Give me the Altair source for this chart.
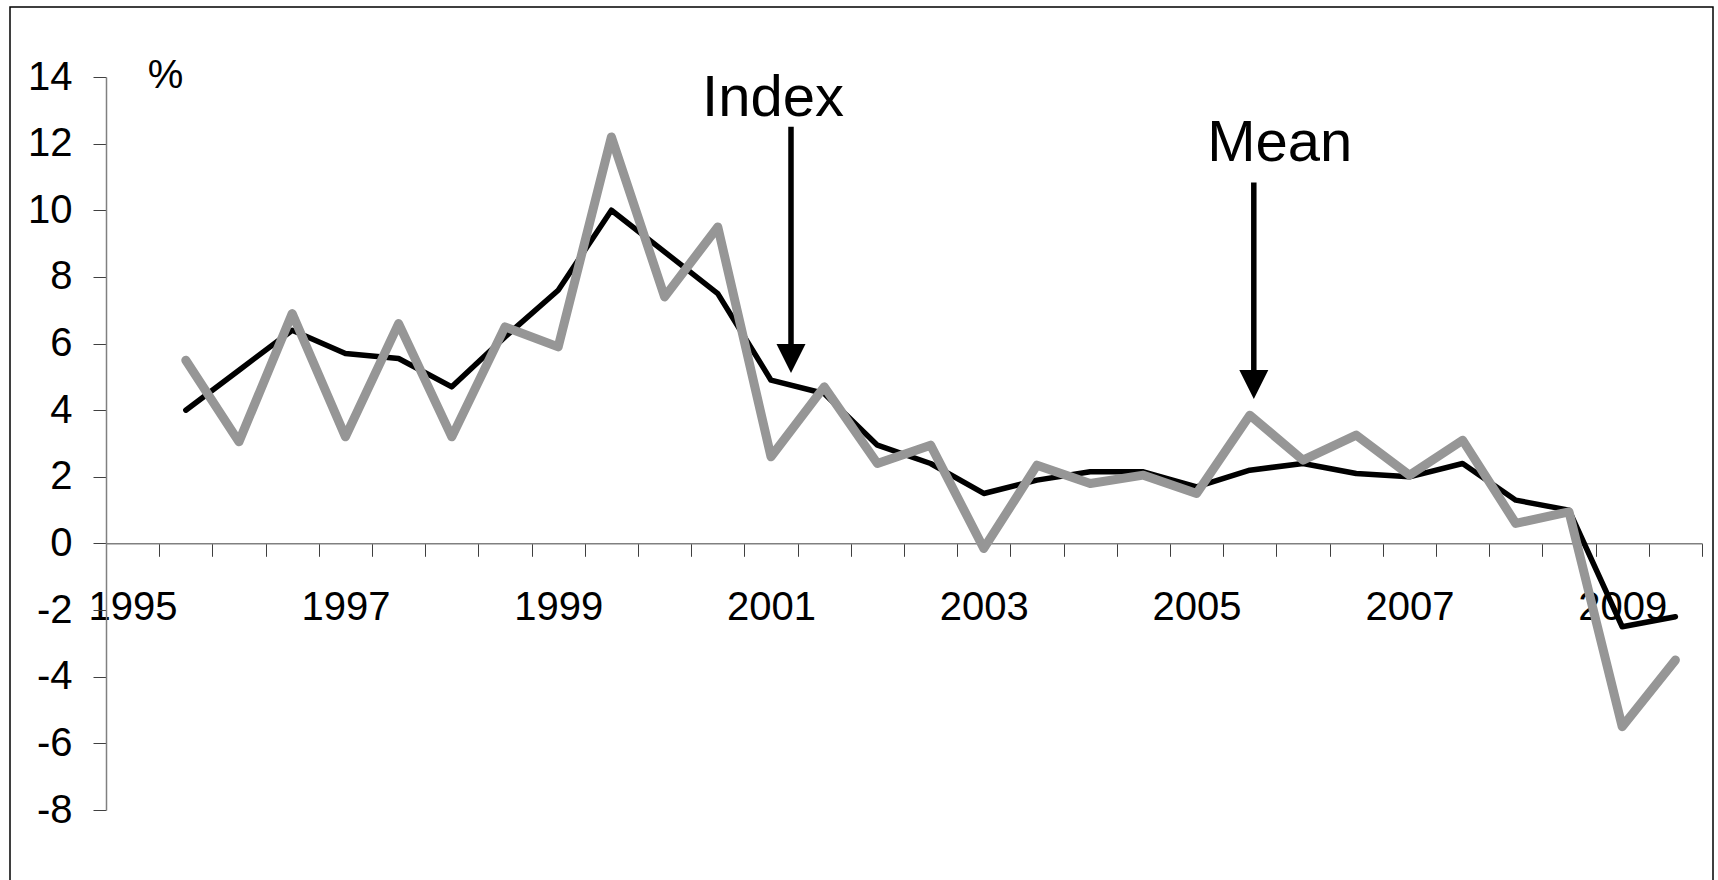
import altair as alt
import pandas as pd

# ---- data ----
periods = [
    "1995 H2",
    "1996 H1", "1996 H2", "1997 H1", "1997 H2", "1998 H1", "1998 H2",
    "1999 H1", "1999 H2", "2000 H1", "2000 H2", "2001 H1", "2001 H2",
    "2002 H1", "2002 H2", "2003 H1", "2003 H2", "2004 H1", "2004 H2",
    "2005 H1", "2005 H2", "2006 H1", "2006 H2", "2007 H1", "2007 H2",
    "2008 H1", "2008 H2", "2009 H1", "2009 H2",
]
mean_vals = [4.0, 5.2, 6.4, 5.7, 5.55, 4.7, 6.2, 7.6, 10.0, 8.75, 7.5, 4.9, 4.5,
             2.95, 2.4, 1.5, 1.9, 2.15, 2.15, 1.7, 2.2, 2.4, 2.1, 2.0, 2.4,
             1.3, 1.0, -2.5, -2.2]
index_vals = [5.5, 3.05, 6.9, 3.2, 6.6, 3.2, 6.5, 5.9, 12.2, 7.4, 9.5, 2.6, 4.7,
              2.4, 2.95, -0.15, 2.35, 1.8, 2.05, 1.5, 3.85, 2.5, 3.25, 2.05, 3.1,
              0.6, 0.95, -5.5, -3.5]
axis_categories = ["1995 H1"] + periods
y_ticks = list(range(-8, 15, 2))

ann_labels = ["Index", "Mean"]
ann_periods = ["2001 H1", "2005 H2"]
ann_text_y = [12.84, 11.47]
ann_text_dx = [2, 30]
arrow_dx = [20, 4]
arrow_top = [12.51, 10.83]
arrow_shaft_end = [5.82, 5.07]
arrow_head_mid = [5.55, 4.77]

unit_label = "%"
unit_period = "1995 H2"
unit_y = 13.68

FONT = "Liberation Sans"
W, H = 1596, 733

df_mean = pd.DataFrame({"period": periods, "value": mean_vals})
df_index = pd.DataFrame({"period": periods, "value": index_vals})

label_expr = ("indexof('' + datum.value, 'H1') >= 0 && "
              "toNumber(slice('' + datum.value, 0, 4)) % 2 == 1 ? "
              "slice('' + datum.value, 0, 4) : ''")

x_enc = alt.X(
    "period:N",
    sort=axis_categories,
    scale=alt.Scale(type="band", domain=axis_categories, paddingInner=0, paddingOuter=0),
    axis=alt.Axis(
        title=None, tickBand="extent", labelExpr=label_expr, labelAngle=0,
        labelFontSize=40, labelColor="black",
        labelPadding=31, tickSize=13, tickColor="#404040",
        domainColor="#808080", domainWidth=1.5, offset=-266.7, grid=False,
    ),
)
y_scale = alt.Scale(domain=[-8, 14], nice=False, zero=False)
y_axis = alt.Axis(
    values=y_ticks, title=None, labelExpr="'' + datum.value",
    labelFontSize=40, labelColor="black", labelPadding=21,
    tickSize=13, tickColor="#404040",
    domainColor="#808080", domainWidth=1.5, grid=False,
)

mean_line = alt.Chart(df_mean).mark_line(
    color="black", strokeWidth=5.5, strokeJoin="round", strokeCap="round"
).encode(x=x_enc, y=alt.Y("value:Q", scale=y_scale, axis=y_axis))

index_line = alt.Chart(df_index).mark_line(
    color="#969696", strokeWidth=9, strokeJoin="round", strokeCap="round"
).encode(x=x_enc, y=alt.Y("value:Q", scale=y_scale))

unit_text = alt.Chart(pd.DataFrame({"period": [unit_period], "y": [unit_y], "t": [unit_label]})).mark_text(
    fontSize=40, color="black", align="left", baseline="alphabetic", dx=-38
).encode(x=x_enc, y=alt.Y("y:Q", scale=y_scale), text="t:N")

layers = [mean_line, index_line, unit_text]
for i in range(len(ann_labels)):
    d = pd.DataFrame({
        "period": [ann_periods[i]], "ty": [ann_text_y[i]], "label": [ann_labels[i]],
        "top": [arrow_top[i]], "bot": [arrow_shaft_end[i]], "head": [arrow_head_mid[i]],
    })
    base = alt.Chart(d)
    layers.append(base.mark_text(
        fontSize=58, color="black", align="center",
        baseline="alphabetic", dx=ann_text_dx[i]
    ).encode(x=x_enc, y=alt.Y("ty:Q", scale=y_scale), text="label:N"))
    layers.append(base.mark_rule(
        color="black", strokeWidth=5.5, xOffset=arrow_dx[i]
    ).encode(x=x_enc, y=alt.Y("top:Q", scale=y_scale), y2="bot:Q"))
    layers.append(base.mark_point(
        shape="M-1,-1L1,-1L0,1Z", size=29 * 29, filled=True, color="black",
        opacity=1, xOffset=arrow_dx[i]
    ).encode(x=x_enc, y=alt.Y("head:Q", scale=y_scale)))

frame = alt.Chart(pd.DataFrame({"a": [0]})).mark_rect(
    fillOpacity=0, stroke="black", strokeWidth=1.5
).encode(x=alt.value(-96), x2=alt.value(1607), y=alt.value(-70), y2=alt.value(880))
layers.append(frame)

chart = alt.layer(*layers).properties(
    width=W, height=H,
    autosize=alt.AutoSizeParams(type="none"),
    padding={"left": 106, "top": 77, "right": 16, "bottom": 70},
).configure(font=FONT, background="white").configure_view(strokeWidth=0)

chart.save("out.html", embed_options={"renderer": "svg", "actions": False})
